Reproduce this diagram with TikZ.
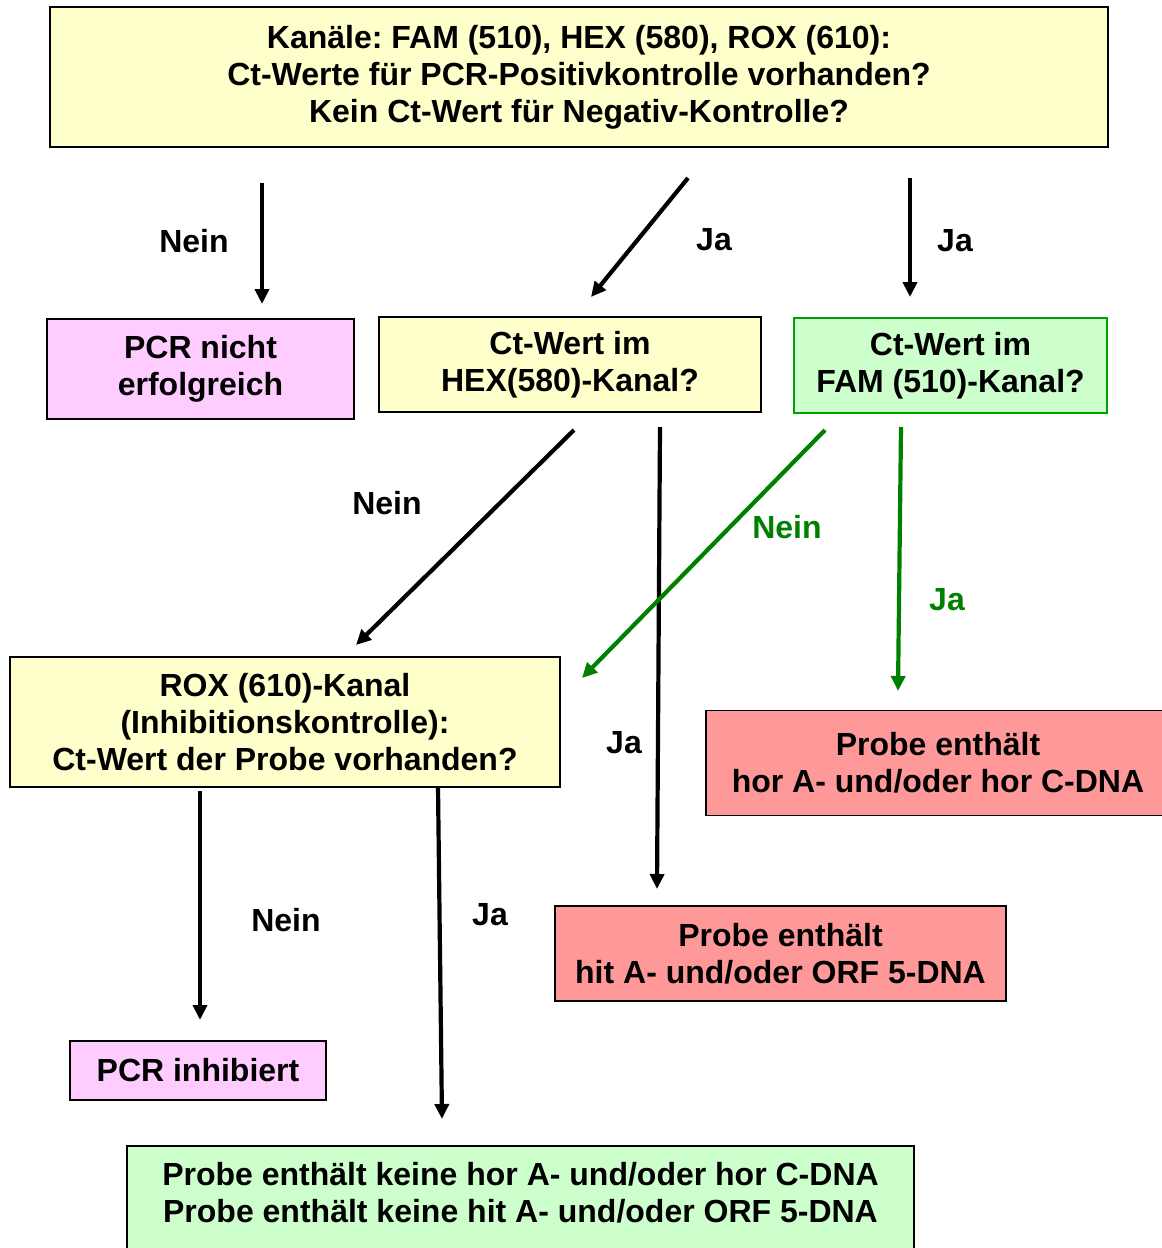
\documentclass[tikz,border=0pt]{standalone}
\usepackage{fontspec}
\setmainfont{Liberation Sans}
\usepackage{xcolor}
\usetikzlibrary{arrows.meta}
\frenchspacing

\definecolor{gelb}{HTML}{FFFFCC}
\definecolor{rosa}{HTML}{FFCCFF}
\definecolor{hellgruen}{HTML}{CCFFCC}
\definecolor{rot}{HTML}{FF9999}
\definecolor{gruen}{HTML}{008000}
\definecolor{rahmengruen}{HTML}{00A000}

\begin{document}
\begin{tikzpicture}[x=1pt,y=-1pt,
	box/.style={draw, line width=1.5pt, align=center, inner sep=0pt,
		font=\fontsize{32}{37}\selectfont\bfseries},
	pfeil/.style={line width=4.2pt, -{Triangle[length=15pt,width=14pt]}},
	lbl/.style={font=\fontsize{32}{37}\selectfont\bfseries}]
				\clip (0,0) rectangle (1162,1248);
				\fill[white] (0,0) rectangle (1162,1248);
				
				% Kästen
				\node[box, fill=gelb, minimum width=1058, minimum height=140] (start) at (579,77)
					{Kanäle: FAM (510), HEX (580), ROX (610):\\Ct-Werte für PCR-Positivkontrolle vorhanden?\\Kein Ct-Wert für Negativ-Kontrolle?};
				\node[box, fill=rosa, minimum width=307, minimum height=100] (nicht) at (200.5,369) {PCR nicht\\erfolgreich};
				\node[box, fill=gelb, minimum width=382, minimum height=95] (hex) at (570,364.5) {Ct-Wert im\\HEX(580)-Kanal?};
				\node[box, draw=rahmengruen, fill=hellgruen, minimum width=313, minimum height=95] (fam) at (950.5,365.5) {Ct-Wert im\\FAM (510)-Kanal?};
				\node[box, fill=gelb, minimum width=550, minimum height=130] (rox) at (285,722)
					{ROX (610)-Kanal\\(Inhibitionskontrolle):\\Ct-Wert der Probe vorhanden?};
				\node[box, fill=rot, minimum width=464, minimum height=105] (hor) at (938,763) {Probe enthält\\hor A- und/oder hor C-DNA};
				\node[box, fill=rot, minimum width=451, minimum height=95] (hit) at (780.5,953.5) {Probe enthält\\hit A- und/oder ORF 5-DNA};
				\node[box, fill=rosa, minimum width=256, minimum height=59] (inhib) at (198,1070.5) {PCR inhibiert};
				\node[box, fill=hellgruen, minimum width=787, minimum height=130, anchor=north] (keine) at (520.5,1145) {};
				\node[lbl, align=center] at (520.5,1192.5) {Probe enthält keine hor A- und/oder hor C-DNA\\Probe enthält keine hit A- und/oder ORF 5-DNA};
				
				% Pfeilenden
				\coordinate (a1) at (262,183);  \coordinate (b1) at (262,304);
				\coordinate (a2) at (688,178);  \coordinate (b2) at (591,297);
				\coordinate (a3) at (910,178);  \coordinate (b3) at (910,297);
				\coordinate (a4) at (574,430);  \coordinate (b4) at (356,645);
				\coordinate (a5) at (660,427);  \coordinate (b5) at (657,889);
				\coordinate (a6) at (825,430);  \coordinate (b6) at (582,678);
				\coordinate (a7) at (901,427);  \coordinate (b7) at (898,691);
				\coordinate (a8) at (200,791);  \coordinate (b8) at (200,1020);
				\coordinate (a9) at (438,787);  \coordinate (b9) at (442,1119);
				
				\foreach \i in {1,2,3,4,5,8,9} {
					\draw[pfeil] (a\i) -- (b\i);
				}
				\foreach \i in {6,7} {
					\draw[pfeil, gruen] (a\i) -- (b\i);
				}
				
				% Beschriftungen
				\node[lbl] at (194,241) {Nein};
				\node[lbl] at (714,240) {Ja};
				\node[lbl] at (955,241) {Ja};
				\node[lbl] at (387,503) {Nein};
				\node[lbl] at (624,743) {Ja};
				\node[lbl, gruen] at (787,527) {Nein};
				\node[lbl, gruen] at (947,600) {Ja};
				\node[lbl] at (286,920) {Nein};
				\node[lbl] at (490,915) {Ja};
			\end{tikzpicture}
\end{document}
